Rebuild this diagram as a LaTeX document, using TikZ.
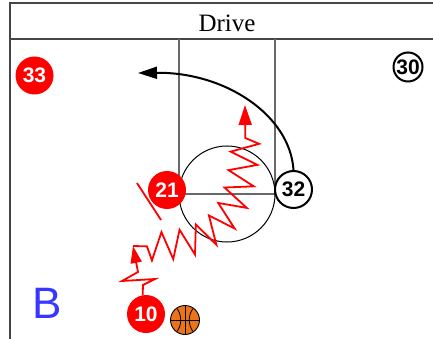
\documentclass[tikz,border=0pt]{standalone}
\usepackage{fontspec}
\setmainfont{Liberation Serif}
\setsansfont{Liberation Sans}
\usetikzlibrary{arrows.meta,decorations.pathmorphing}
\definecolor{courtgray}{RGB}{105,105,105}
\definecolor{framegray}{RGB}{70,70,70}
\definecolor{pred}{RGB}{255,0,0}
\definecolor{ballorange}{RGB}{235,115,25}
\definecolor{bblue}{RGB}{55,55,255}
\begin{document}
\begin{tikzpicture}[x=1pt,y=-1pt,
  numfont/.style={font=\sffamily\bfseries\fontsize{21}{21}\selectfont},
  offense/.style={circle,fill=pred,text=white,numfont,minimum size=38pt,inner sep=0pt},
  defense/.style={circle,draw=black,line width=2pt,fill=white,text=black,numfont,minimum size=37pt,inner sep=0pt},
  courtline/.style={courtgray,line width=1.6pt},
  frameline/.style={framegray,line width=1.6pt},
  dribble/.style={pred,line width=1.8pt,line join=miter},
  cutline/.style={black,line width=2pt},
  ballstyle/.style={circle,draw=black,line width=0.9pt,fill=ballorange,minimum size=29pt,inner sep=0pt}]
\useasboundingbox (0,0) rectangle (433,339);
\begin{scope}
\clip (0,0) rectangle (433,339);
\draw[frameline] (10,345) -- (10,3) -- (445,3) -- (445,345);
\draw[frameline] (10,39) -- (445,39);
\end{scope}
% lane and circle
\draw[courtline] (179,39) -- (179,194) -- (275,194) -- (275,39);
\draw[black,line width=1pt] (227,194) circle[radius=48];
% title
\node[anchor=base,font=\fontsize{25}{25}\selectfont] (title) at (227,32) {Drive};
% team label
\node[anchor=base,text=bblue,font=\sffamily\fontsize{44}{44}\selectfont] (teamB) at (47,318) {B};
% coordinates
\coordinate (tipA) at (138,73);
\coordinate (tipB) at (133,246);
% players
\node[offense] (n33) at (34.5,75.5) {33};
\node[defense,minimum size=29pt] (n30) at (408,67) {30};
\node[defense] (n32) at (293.5,189.5) {32};
% cut of 32
\draw[cutline,-{Triangle[length=19pt,width=12pt]}] (n32.north) .. controls (290,115) and (225,72) .. (tipA);
% screen mark
\draw[dribble] (137,183) -- (161,220);
% long dribble drive
\draw[dribble,decorate,decoration={zigzag,segment length=20pt,amplitude=-14pt,pre length=14pt,post length=32pt},-{Triangle[length=20pt,width=13pt]}]
  (tipB) .. controls (215,250) and (250,225) .. (245,105);
\node[offense] (n21) at (167,190) {21};
% short dribble from 10
\node[offense] (n10) at (146,314) {10};
\draw[dribble,-{Triangle[length=17pt,width=11pt]}] (n10.100) -- (143,285) -- (155,279) -- (122,281) -- (138,272) -- (tipB);
% ball
\node[ballstyle] (ball) at (185,320) {};
\draw[black,line width=0.8pt] (ball.north) -- (ball.south);
\draw[black,line width=0.8pt] (ball.west) -- (ball.east);
\draw[black,line width=0.8pt] (177,308.5) .. controls (182,315) and (182,325) .. (177,331.5);
\draw[black,line width=0.8pt] (193,308.5) .. controls (188,315) and (188,325) .. (193,331.5);
\end{tikzpicture}
\end{document}
